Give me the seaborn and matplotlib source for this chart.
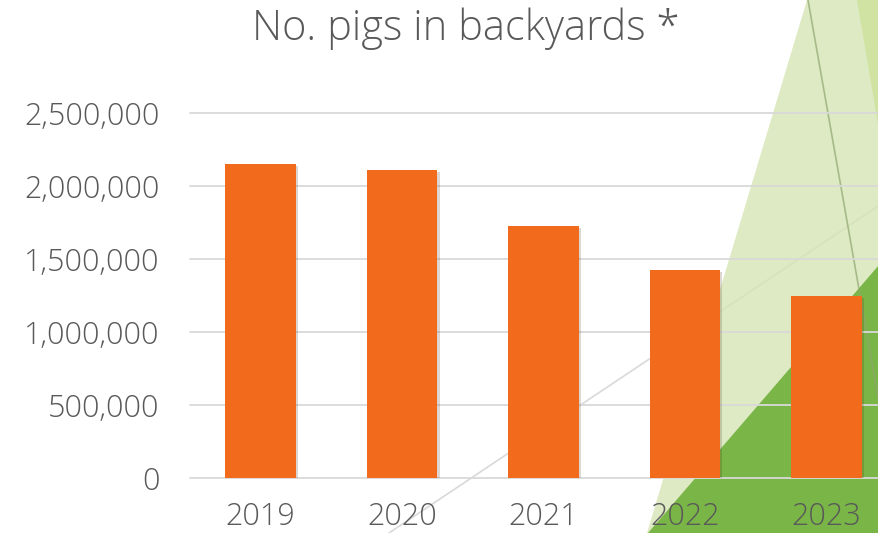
import matplotlib
matplotlib.use("Agg")
import matplotlib.pyplot as plt
import matplotlib.patheffects as pe
from matplotlib.patches import Polygon
from matplotlib.ticker import FuncFormatter
import pandas as pd
import seaborn as sns

# chart data
years = ["2019", "2020", "2021", "2022", "2023"]
pigs = [2150000, 2110000, 1730000, 1425000, 1250000]
y_ticks = [0, 500000, 1000000, 1500000, 2000000, 2500000]

df = pd.DataFrame({"year": years, "pigs": pigs})

sns.set_theme(style="white")
plt.rcParams["font.family"] = ["Open Sans", "DejaVu Sans"]
text_color = "#595959"

fig = plt.figure(figsize=(8.79, 5.33), dpi=100)

# slide background decoration (pixel coordinates of the slide)
bg = fig.add_axes([0, 0, 1, 1], zorder=0)
bg.set_xlim(0, 879)
bg.set_ylim(533, 0)
bg.axis("off")
bg.plot([389, 879], [533, 205.5], color="#D9D9D9", lw=1.2, zorder=1)
bg.add_patch(Polygon([(807, 0), (879, 0), (879, 533), (647, 533)],
                     closed=True, facecolor=(0.834, 0.897, 0.706), alpha=0.8,
                     edgecolor="none", zorder=2))
bg.add_patch(Polygon([(857, 0), (879, 0), (879, 130)], closed=True,
                     facecolor="#D0E3A3", edgecolor="none", zorder=3))
bg.add_patch(Polygon([(648, 533), (879, 265), (879, 533)], closed=True,
                     facecolor="#7AB547", edgecolor="none", zorder=3))
bg.plot([808, 902], [0, 533], color="#8FA66E", lw=1.2, alpha=0.7, zorder=4)

# main chart
ax = fig.add_axes([190 / 879, 1 - 477.7 / 533, 707 / 879, 364.4 / 533], zorder=1)
ax.patch.set_alpha(0)
sns.barplot(data=df, x="year", y="pigs", color="#F26B1D", saturation=1,
            width=0.5, edgecolor="none", linewidth=0, ax=ax, zorder=3)
for bar in ax.patches:
    bar.set_path_effects([pe.SimplePatchShadow(offset=(1.5, -1.5), alpha=0.18),
                          pe.Normal()])

ax.set_xlim(-0.5, 4.5)
ax.set_ylim(0, 2500000)
ax.set_yticks(y_ticks)
ax.yaxis.set_major_formatter(FuncFormatter(lambda v, p: f"{int(v):,}"))
ax.grid(axis="y", color="#D9D9D9", lw=1.3, zorder=0)
ax.set_axisbelow(True)
for gl in ax.get_ygridlines():
    gl.set_clip_on(False)
sns.despine(ax=ax, left=True, bottom=True, top=True, right=True)
ax.tick_params(axis="y", length=0, pad=22, labelsize=22, labelcolor=text_color)
ax.tick_params(axis="x", length=0, pad=17, labelsize=22, labelcolor=text_color)
for lbl in ax.get_xticklabels() + ax.get_yticklabels():
    lbl.set_fontweight("light")
ax.set_xlabel("")
ax.set_ylabel("")

fig.text(466 / 879, 1 - 29 / 533, "No. pigs in backyards *", ha="center",
         va="center", fontsize=30, color=text_color, fontweight="light")

fig.savefig("out.png", dpi=100)
